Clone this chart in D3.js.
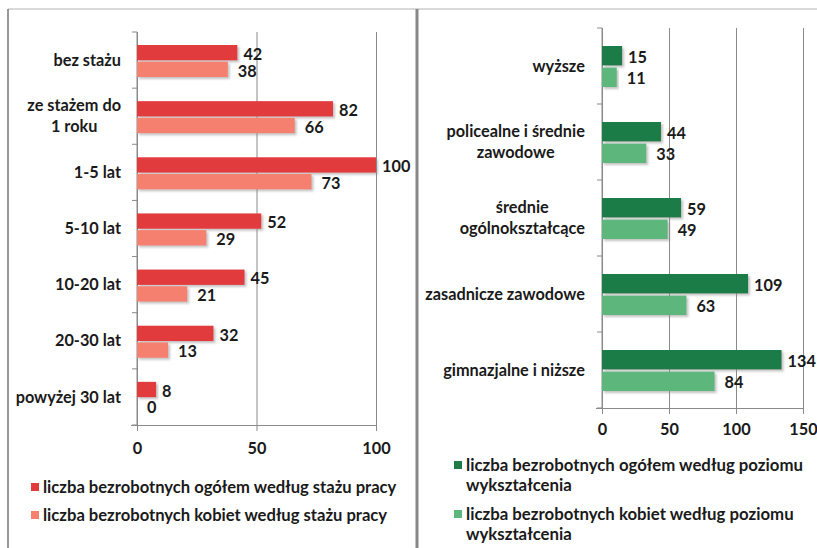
<!DOCTYPE html>
<html>
  <head>
    <meta charset="utf-8">
    <script type="text/javascript" src="https://d3js.org/d3.v7.min.js"></script>
    <style>
      body { margin: 0; background: #fff; }
      text { font-family: Lato, "Open Sans", sans-serif; font-weight: bold; fill: #1a1a1a; }
    </style>
  </head>
  <body>
  </body>
  <script>

  // left chart: by work experience
  var stazCats = ["bez stażu", "ze stażem do|1 roku", "1-5 lat", "5-10 lat", "10-20 lat", "20-30 lat", "powyżej 30 lat"];
  var stazOgolem = [42, 82, 100, 52, 45, 32, 8];
  var stazKobiety = [38, 66, 73, 29, 21, 13, 0];
  var stazTicks = [0, 50, 100];
  var stazLegend = ["liczba bezrobotnych ogółem według stażu pracy",
                    "liczba bezrobotnych kobiet według stażu pracy"];

  // right chart: by education
  var wyksCats = ["wyższe", "policealne i średnie|zawodowe", "średnie|ogólnokształcące", "zasadnicze zawodowe", "gimnazjalne i niższe"];
  var wyksOgolem = [15, 44, 59, 109, 134];
  var wyksKobiety = [11, 33, 49, 63, 84];
  var wyksTicks = [0, 50, 100, 150];
  var wyksLegend = ["liczba bezrobotnych ogółem według poziomu|wykształcenia",
                    "liczba bezrobotnych kobiet według poziomu|wykształcenia"];

  var svg = d3.select("body").append("svg")
              .attr("width", 817)
              .attr("height", 548);

  var defs = svg.append("defs");
  var shadow = defs.append("filter").attr("id", "shadow")
                   .attr("x", "-5%").attr("y", "-20%").attr("width", "120%").attr("height", "160%");
  shadow.append("feDropShadow")
        .attr("dx", 2).attr("dy", 2).attr("stdDeviation", 0.8)
        .attr("flood-color", "#888").attr("flood-opacity", 0.5);

  // frame
  svg.append("line").attr("x1", 8).attr("x2", 817).attr("y1", 9).attr("y2", 9)
     .attr("stroke", "#ccc").attr("stroke-width", 1.5);
  svg.append("line").attr("x1", 8).attr("x2", 8).attr("y1", 9).attr("y2", 548)
     .attr("stroke", "#777").attr("stroke-width", 1.5);
  svg.append("line").attr("x1", 417).attr("x2", 417).attr("y1", 9).attr("y2", 548)
     .attr("stroke", "#888").attr("stroke-width", 3);

  function drawChart(opt) {
    var g = svg.append("g");
    var fs = opt.fontSize + "px";

    var x = d3.scaleLinear().domain(opt.domain).range([opt.left, opt.right]);
    var y0 = d3.scaleBand().domain(opt.cats).range([opt.top, opt.bottom]);
    var y1 = d3.scaleBand().domain([0, 1]).range(opt.inner).paddingInner(opt.gap);

    // gridlines
    g.append("g")
     .attr("transform", "translate(0," + opt.bottom + ")")
     .call(d3.axisBottom(x).tickValues(opt.ticks).tickSize(-(opt.bottom - opt.top)).tickFormat(""))
     .call(function(s) { s.select(".domain").remove(); })
     .selectAll("line").attr("stroke", "#8a8a8a");

    // x axis
    var xa = g.append("g")
     .attr("transform", "translate(0," + opt.bottom + ")")
     .call(d3.axisBottom(x).tickValues(opt.ticks).tickSize(6).tickSizeOuter(0).tickPadding(opt.tickPad));
    xa.select(".domain").attr("stroke", "#8a8a8a").attr("d", "M" + (opt.left - 6) + ",0.5H" + opt.right);
    xa.selectAll("line").attr("stroke", "#8a8a8a");
    xa.selectAll("text").style("font-size", fs).style("font-family", "Lato, sans-serif").style("font-weight", "bold").attr("fill", "#1a1a1a");

    // y axis with ticks at band edges
    g.append("line").attr("x1", opt.left).attr("x2", opt.left)
     .attr("y1", opt.top).attr("y2", opt.bottom).attr("stroke", "#8a8a8a");
    var edges = opt.cats.map(function(c) { return y0(c); }).concat([opt.bottom]);
    g.selectAll(".ytick").data(edges).enter().append("line")
     .attr("x1", opt.left - 5).attr("x2", opt.left)
     .attr("y1", function(d) { return d; }).attr("y2", function(d) { return d; })
     .attr("stroke", "#8a8a8a");

    // category labels
    opt.cats.forEach(function(c) {
      var lines = c.split("|");
      var cy = y0(c) + y0.bandwidth() / 2;
      var t = g.append("text").style("font-size", fs).attr("text-anchor", "middle");
      lines.forEach(function(l, i) {
        t.append("tspan").attr("x", 0)
         .attr("y", cy + (i - (lines.length - 1) / 2) * 21)
         .attr("dy", "0.35em").text(l);
      });
      var w = t.node().getBBox().width;
      t.attr("transform", "translate(" + (opt.labelRight - w / 2) + ",0)");
    });

    // bars
    var series = [
      { vals: opt.ogolem, color: opt.colors[0], off: 6 },
      { vals: opt.kobiety, color: opt.colors[1], off: 10 }
    ];
    series.forEach(function(s, si) {
      g.selectAll(".bar" + si).data(s.vals).enter().append("rect")
       .attr("x", x(0))
       .attr("y", function(d, i) { return y0(opt.cats[i]) + y1(si); })
       .attr("width", function(d) { return x(d) - x(0); })
       .attr("height", y1.bandwidth())
       .attr("fill", s.color)
       .attr("filter", "url(#shadow)");
      g.selectAll(".val" + si).data(s.vals).enter().append("text")
       .attr("x", function(d) { return x(d) + s.off; })
       .attr("y", function(d, i) { return y0(opt.cats[i]) + y1(si) + y1.bandwidth() / 2 + 1.5; })
       .attr("dy", "0.35em")
       .style("font-size", fs)
       .text(function(d) { return d; });
    });

    // legend
    var ly = opt.legendY;
    opt.legend.forEach(function(item, i) {
      var lines = item.split("|");
      g.append("rect").attr("x", opt.legendX).attr("y", ly - 4).attr("width", 8).attr("height", 8)
       .attr("fill", opt.colors[i]);
      lines.forEach(function(l, j) {
        g.append("text").attr("x", opt.legendX + 12).attr("y", ly + j * opt.lineH).attr("dy", "0.35em")
         .style("font-size", opt.legendSize + "px").text(l);
      });
      ly += (lines.length - 1) * opt.lineH + opt.legendGap;
    });
  }

  drawChart({
    cats: stazCats, ogolem: stazOgolem, kobiety: stazKobiety, ticks: stazTicks, legend: stazLegend,
    domain: [0, 100], left: 137, right: 376, top: 32, bottom: 425,
    inner: [13, 45], gap: 0.08, labelRight: 121, tickPad: 11,
    colors: ["#e23b3e", "#f5806f"], fontSize: 16.3, legendSize: 16.6,
    legendX: 31, legendY: 487, legendGap: 28, lineH: 20
  });

  drawChart({
    cats: wyksCats, ogolem: wyksOgolem, kobiety: wyksKobiety, ticks: wyksTicks, legend: wyksLegend,
    domain: [0, 150], left: 602, right: 803, top: 28, bottom: 408,
    inner: [18, 59], gap: 0.1, labelRight: 585, tickPad: 9,
    colors: ["#1e7b46", "#5db77c"], fontSize: 16.3, legendSize: 16.8,
    legendX: 454, legendY: 465, legendGap: 29, lineH: 20
  });

  </script>
</html>
